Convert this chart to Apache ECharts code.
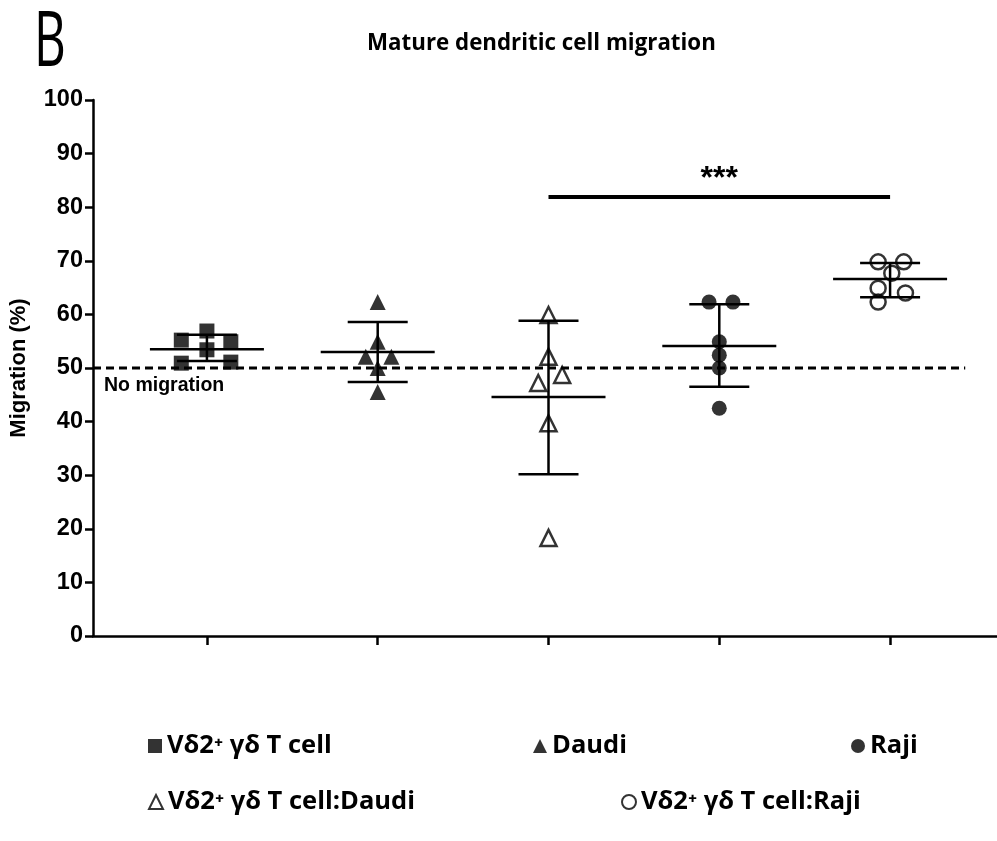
<!DOCTYPE html>
<html lang="en">
<head>
<meta charset="UTF-8">
<title>Mature dendritic cell migration</title>
<script src="https://cdn.jsdelivr.net/npm/echarts@6/dist/echarts.min.js"></script>
<style>
  html, body { margin: 0; padding: 0; background: #fff; }
  #box { width: 997px; height: 841px; }
</style>
</head>
<body>
<div id="box"></div>
<script>
    // group order along the x axis
    var groupNames = ['Vδ2⁺ γδ T cell', 'Daudi', 'Vδ2⁺ γδ T cell:Daudi', 'Raji', 'Vδ2⁺ γδ T cell:Raji'];
    var groupPos = [1, 2, 3, 4, 5];

    // individual points (x = group position with a little spread)
    var vd2X = [1, 0.85, 1.14, 1, 0.85, 1.14];
    var vd2Y = [56.9, 55.2, 54.9, 53.4, 50.9, 51.1];
    var daudiX = [2, 2, 1.93, 2.08, 2, 2];
    var daudiY = [62.3, 54.9, 52.1, 52.1, 50.0, 45.5];
    var vd2DaudiX = [3, 3, 3.08, 2.94, 3, 3];
    var vd2DaudiY = [59.9, 52.1, 48.7, 47.2, 39.7, 18.3];
    var rajiX = [3.94, 4.08, 4, 4, 4, 4];
    var rajiY = [62.3, 62.3, 54.9, 52.4, 50.0, 42.5];
    var vd2RajiX = [4.93, 5.08, 5.01, 4.93, 5.09, 4.93];
    var vd2RajiY = [69.8, 69.8, 67.7, 64.9, 64.0, 62.3];

    // mean and error bar ends per group
    var means = [53.5, 53.0, 44.6, 54.1, 66.6];
    var errLow = [51.3, 47.4, 30.2, 46.5, 63.2];
    var errHigh = [56.2, 58.6, 58.8, 61.9, 69.6];

    // reference line and significance bar
    var noMigration = 50;
    var noMigrationRange = [0.333, 5.44];
    var sigFrom = 3, sigTo = 5, sigY = 81.9, sigText = '***';

    var yTicks = [0, 10, 20, 30, 40, 50, 60, 70, 80, 90, 100];

    function zip(xs, ys) {
        return xs.map(function (x, i) { return [x, ys[i]]; });
    }

    var narrow = "'Liberation Sans Narrow', 'Open Sans', sans-serif";
    var arial = 'Arial, "Liberation Sans", sans-serif';
    var box = echarts.init(document.getElementById('box'));

    function legendAt(name, left, top) {
        return {
            data: [name], left: left, top: top, padding: 0,
            itemWidth: 14, itemHeight: 14, itemGap: 5,
            selectedMode: false,
            textStyle: { color: '#000', fontWeight: 'bold', fontSize: 25.5, fontFamily: narrow }
        };
    }

    var errData = groupPos.map(function (g, i) { return [g, means[i], errLow[i], errHigh[i]]; });

    var option = {
        animation: false,
        backgroundColor: '#fff',
        grid: { left: 92, right: 0, top: 100, bottom: 205 },
        legend: [
            legendAt(groupNames[0], 148, 733),
            legendAt(groupNames[1], 533, 733),
            legendAt(groupNames[3], 851, 733),
            legendAt(groupNames[2], 148, 789),
            legendAt(groupNames[4], 621, 789)
        ],
        graphic: [
            { type: 'text', x: 34, y: 6, scaleX: 0.64, style: { text: 'B', fontSize: 77, fontFamily: narrow, fill: '#000' } },
            { type: 'text', x: 367, y: 31, scaleX: 0.93, style: { text: 'Mature dendritic cell migration', fontSize: 24, fontWeight: 'bold', fontFamily: narrow, fill: '#000' } },
            { type: 'text', left: 104, top: 376, style: { text: 'No migration', fontSize: 19.5, fontWeight: 'bold', fontFamily: arial, fill: '#000' } }
        ],
        xAxis: {
            type: 'value', min: 0.333, max: 5.626,
            axisLine: { show: true, lineStyle: { color: '#000', width: 2.5 } },
            axisTick: { show: true, customValues: groupPos, length: 9, lineStyle: { color: '#000', width: 2.5 } },
            axisLabel: { show: false },
            splitLine: { show: false }
        },
        yAxis: {
            type: 'value', min: 0, max: 100, interval: 10,
            name: 'Migration (%)', nameLocation: 'middle', nameGap: 63,
            nameTextStyle: { color: '#000', fontWeight: 'bold', fontSize: 22, fontFamily: arial },
            axisLine: { show: true, lineStyle: { color: '#000', width: 2.5 } },
            axisTick: { show: true, length: 8, lineStyle: { color: '#000', width: 2.5 } },
            axisLabel: { color: '#000', fontWeight: 'bold', fontSize: 23.5, margin: 10, fontFamily: arial,
                customValues: yTicks },
            splitLine: { show: false }
        },
        series: [
            {
                type: 'line', data: zip(noMigrationRange, [noMigration, noMigration]), symbol: 'none', silent: true,
                lineStyle: { color: '#000', width: 2.8, type: [8, 5] }, z: 1,
                markLine: {
                    silent: true, symbol: 'none',
                    lineStyle: { color: '#000', width: 4, type: 'solid' },
                    label: { show: true, position: 'middle', formatter: sigText, color: '#000', fontSize: 32, fontWeight: 'bold', distance: 2,
                        fontFamily: arial },
                    data: [[{ coord: [sigFrom, sigY] }, { coord: [sigTo, sigY] }]]
                }
            },
            {
                type: 'custom', data: errData, z: 2, silent: true,
                renderItem: function (params, api) {
                    var pm = api.coord([api.value(0), api.value(1)]);
                    var pl = api.coord([api.value(0), api.value(2)]);
                    var ph = api.coord([api.value(0), api.value(3)]);
                    var st = { stroke: '#000', lineWidth: 2.5 };
                    return {
                        type: 'group',
                        children: [
                            { type: 'line', shape: { x1: pm[0] - 57, y1: pm[1], x2: pm[0] + 57, y2: pm[1] }, style: st },
                            { type: 'line', shape: { x1: pl[0], y1: pl[1], x2: ph[0], y2: ph[1] }, style: st },
                            { type: 'line', shape: { x1: pl[0] - 30, y1: pl[1], x2: pl[0] + 30, y2: pl[1] }, style: st },
                            { type: 'line', shape: { x1: ph[0] - 30, y1: ph[1], x2: ph[0] + 30, y2: ph[1] }, style: st }
                        ]
                    };
                }
            },
            { name: groupNames[0], type: 'scatter', data: zip(vd2X, vd2Y), symbol: 'rect', symbolSize: 15, z: 3,
                itemStyle: { color: '#000' } },
            { name: groupNames[1], type: 'scatter', data: zip(daudiX, daudiY), symbol: 'triangle', symbolSize: 16, z: 3,
                itemStyle: { color: '#000' } },
            { name: groupNames[2], type: 'scatter', data: zip(vd2DaudiX, vd2DaudiY), symbol: 'triangle', symbolSize: 16, z: 3,
                itemStyle: { color: 'rgba(255,255,255,0)', borderColor: '#000', borderWidth: 2.5 } },
            { name: groupNames[3], type: 'scatter', data: zip(rajiX, rajiY), symbol: 'circle', symbolSize: 15, z: 3,
                itemStyle: { color: '#000' } },
            { name: groupNames[4], type: 'scatter', data: zip(vd2RajiX, vd2RajiY), symbol: 'circle', symbolSize: 15, z: 3,
                itemStyle: { color: 'rgba(255,255,255,0)', borderColor: '#000', borderWidth: 2.5 } }
        ]
    };
    box.setOption(option);
</script>
</body>
</html>
